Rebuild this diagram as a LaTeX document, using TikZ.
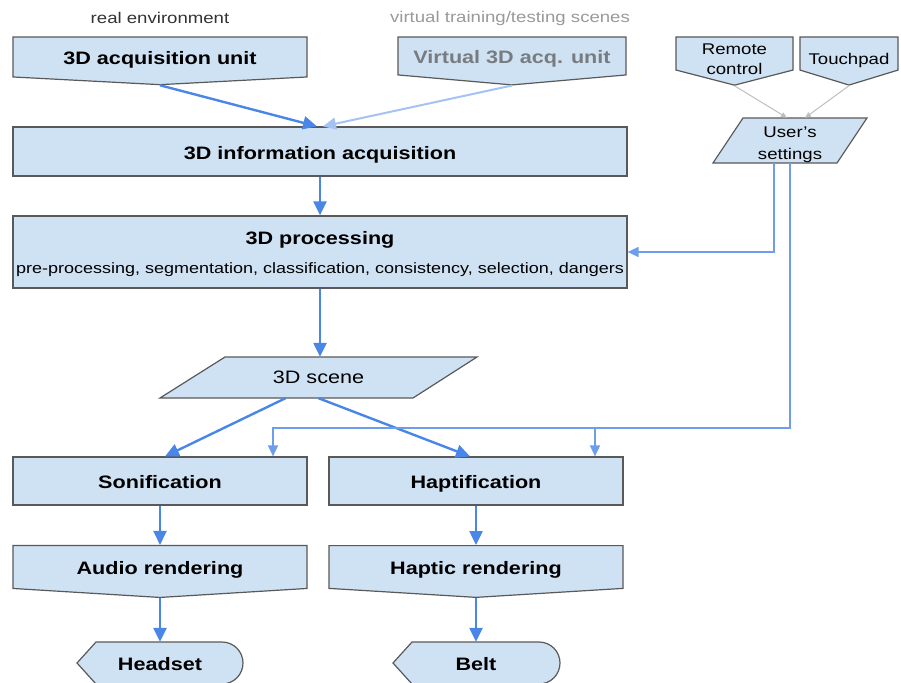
\documentclass[tikz,border=0pt]{standalone}
\usepackage{fontspec}
\setmainfont{Liberation Sans}[FakeStretch=1.2]
\usetikzlibrary{arrows.meta, shapes.symbols, calc}

\definecolor{boxfill}{RGB}{207,226,243}
\definecolor{boxline}{RGB}{89,89,89}
\definecolor{flow}{RGB}{74,134,232}
\definecolor{flowlight}{RGB}{164,194,244}
\definecolor{setflow}{RGB}{109,158,235}
\definecolor{ctrlgray}{RGB}{190,190,190}
\definecolor{headdark}{RGB}{51,51,51}
\definecolor{headlight}{RGB}{153,153,153}
\definecolor{virttext}{RGB}{120,124,128}

\tikzset{
  block/.style={draw=boxline, fill=boxfill, line width=1.2pt, rectangle,
    minimum width=294pt, minimum height=48pt, inner sep=0pt,
    text height=16pt, text depth=1pt,
    font=\fontsize{18}{20}\selectfont\bfseries},
  unit/.style={block, shape=signal, signal to=south, signal from=nowhere},
  smalltext/.style={font=\fontsize{15.5}{20}\selectfont},
  shapefill/.style={draw=boxline, fill=boxfill, line width=1.2pt},
  outlet/.style={minimum width=167pt, minimum height=42pt, inner sep=0pt,
    text height=16pt, text depth=1pt,
    font=\fontsize{18}{20}\selectfont\bfseries},
  header/.style={font=\fontsize{15.5}{18}\selectfont},
  flowarrow/.style={draw=flow, line width=2.4pt, -{Triangle[length=14pt, width=13pt]}},
  lightarrow/.style={draw=flowlight, line width=2pt, -{Triangle[length=13pt, width=12pt]}},
  setarrow/.style={draw=setflow, line width=1.6pt, -{Triangle[length=11pt, width=10pt]}},
  ctrlarrow/.style={draw=ctrlgray, line width=1pt, -{Triangle[length=6pt, width=5pt]}}
}

\begin{document}
\begin{tikzpicture}[x=1pt, y=-1pt]
  \useasboundingbox (0,0) rectangle (901,682);

  % headers
  \node[header, text=headdark] (realenv) at (160,18) {real environment};
  \node[header, text=headlight] (virtenv) at (510,18) {virtual training/testing scenes};

  % acquisition units
  \node[unit, minimum height=45pt, signal pointer angle=174] (acq) at (160,57) {3D acquisition unit};
  \node[unit, minimum width=228pt, minimum height=46.5pt, signal pointer angle=170, text=virttext] (virt) at (512,56) {Virtual 3D acq. unit};
  \node[unit, smalltext, minimum width=117pt, minimum height=41.5pt, signal pointer angle=151, text height=0pt, text depth=0pt] (remote) at (734.5,53.5)
    {\smash{\raisebox{-11pt}{\begin{tabular}{@{}c@{}}Remote\\control\end{tabular}}}};
  \node[unit, smalltext, minimum width=98pt, minimum height=45.5pt, signal pointer angle=146, text height=0pt, text depth=0pt] (touch) at (849,53.5)
    {\smash{\raisebox{-11pt}{Touchpad}}};

  % user settings (parallelogram)
  \draw[shapefill] (713,163) -- (743,118) -- (867,118) -- (837,163) -- cycle;
  \node[smalltext, minimum height=45pt, inner sep=0pt, text height=0pt, text depth=0pt] (settings) at (790,140.5)
    {\smash{\raisebox{-8pt}{\begin{tabular}{@{}c@{}}User's\\[2pt]settings\end{tabular}}}};

  % processing chain
  \node[block, minimum width=614pt, minimum height=49pt] (info) at (320,151.5) {3D information acquisition};
  \node[block, minimum width=614pt, minimum height=72pt, align=center, text height=, text depth=] (proc) at (320,252)
    {\rule{0pt}{18pt}3D processing\\[9pt]{\fontsize{15}{18}\selectfont\mdseries pre-processing, segmentation, classification, consistency, selection, dangers}};

  % 3D scene (parallelogram)
  \draw[shapefill] (160,398) -- (225,357) -- (477,357) -- (413,398) -- cycle;
  \node[font=\fontsize{18}{20}\selectfont, minimum height=41pt, inner sep=0pt] (scene) at (318.5,377.5) {3D scene};

  % outputs
  \node[block] (son) at (160,481) {Sonification};
  \node[block] (hap) at (476,481) {Haptification};
  \node[unit, signal pointer angle=173] (audio) at (160,567) {Audio rendering};
  \node[unit, signal pointer angle=173] (hapr) at (476,567) {Haptic rendering};

  \draw[shapefill] (77,663) -- (96,642) -- (222,642) arc (-90:90:21) -- (96,684) -- cycle;
  \draw[shapefill] (393,663) -- (412,642) -- (539,642) arc (-90:90:21) -- (412,684) -- cycle;
  \node[outlet] (head) at (160,663) {Headset};
  \node[outlet] (belt) at (476,663) {Belt};

  % connectors
  \draw[flowarrow] (acq.south) -- ([xshift=-3pt]info.north);
  \draw[lightarrow] (virt.south) -- ([xshift=3pt]info.north);
  \draw[ctrlarrow] (remote.south) -- ([xshift=-3pt]settings.north);
  \draw[ctrlarrow] (touch.south) -- ([xshift=15pt]settings.north);
  \draw[flowarrow] (info.south) -- (proc.north);
  \draw[setarrow] ([xshift=-16pt]settings.south) |- (proc.east);
  \draw[flowarrow] (proc.south) -- (proc.south |- scene.north);
  \draw[flowarrow] ([xshift=-33pt]scene.south) -- ([xshift=5pt]son.north);
  \draw[flowarrow] (scene.south) -- ([xshift=-6pt]hap.north);
  \coordinate (bus) at (273,428);
  \draw[setarrow] (settings.south) |- (bus) -- (bus |- son.north);
  \draw[setarrow] ([xshift=119pt]hap.north |- bus) -- ([xshift=119pt]hap.north);
  \draw[flowarrow] (son.south) -- (audio.north);
  \draw[flowarrow] (hap.south) -- (hapr.north);
  \draw[flowarrow] (audio.south) -- (head.north);
  \draw[flowarrow] (hapr.south) -- (belt.north);
\end{tikzpicture}
\end{document}
